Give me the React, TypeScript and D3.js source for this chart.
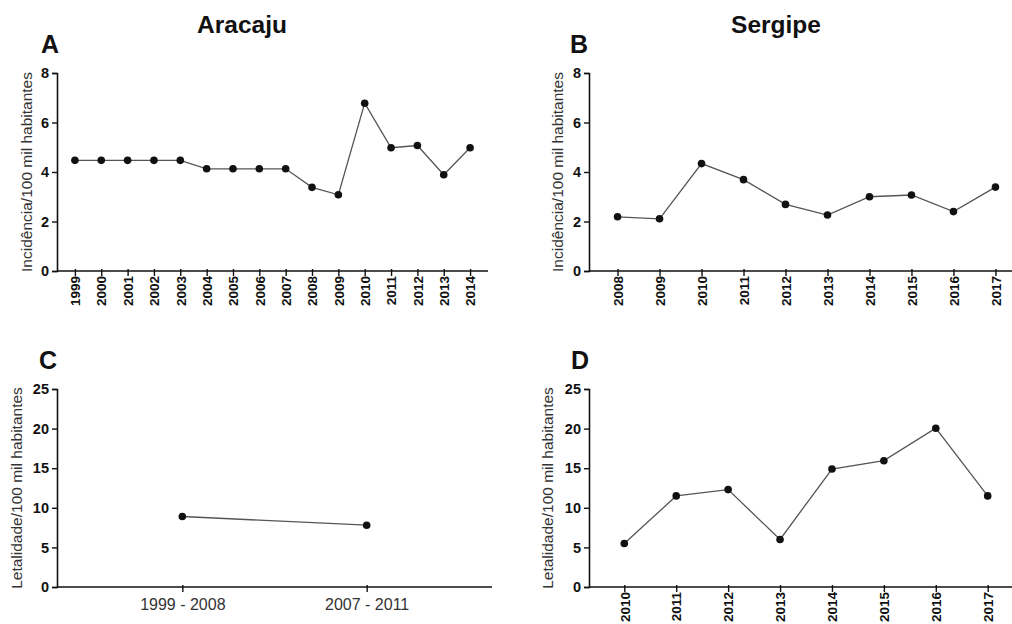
import React, { useEffect, useRef } from 'react';
import * as d3 from 'd3';

const YEARS_A = ['1999', '2000', '2001', '2002', '2003', '2004', '2005', '2006', '2007', '2008', '2009', '2010', '2011', '2012', '2013', '2014'];
const VALUES_A = [4.47, 4.47, 4.47, 4.47, 4.47, 4.13, 4.13, 4.13, 4.13, 3.38, 3.08, 6.78, 4.98, 5.07, 3.89, 4.98];

const YEARS_B = ['2008', '2009', '2010', '2011', '2012', '2013', '2014', '2015', '2016', '2017'];
const VALUES_B = [2.19, 2.11, 4.34, 3.69, 2.69, 2.26, 3.0, 3.07, 2.4, 3.39];

const PERIODS_C = ['1999 - 2008', '2007 - 2011'];
const VALUES_C = [8.9, 7.8];

const YEARS_D = ['2010', '2011', '2012', '2013', '2014', '2015', '2016', '2017'];
const VALUES_D = [5.5, 11.5, 12.3, 6.0, 14.9, 15.95, 20.05, 11.5];

const TICKS_INC = [0, 2, 4, 6, 8];
const TICKS_LET = [0, 5, 10, 15, 20, 25];

const FONT = '"Liberation Sans", Arial, sans-serif';

interface PanelCfg {
  letter: string;
  letterX: number;
  letterY: number;
  left: number;
  right: number;
  top: number;
  bottom: number;
  cats: string[];
  values: number[];
  yMax: number;
  yTicks: number[];
  yLabel: string;
  yLabelX: number;
  rotated: boolean;
}

function drawPanel(svg: d3.Selection<SVGSVGElement, unknown, null, undefined>, p: PanelCfg) {
  const x = d3.scalePoint<string>().domain(p.cats).range([p.left, p.right]).padding(0.68);
  const y = d3.scaleLinear().domain([0, p.yMax]).range([p.bottom, p.top]);

  const g = svg.append('g');

  g.append('text')
    .attr('x', p.letterX)
    .attr('y', p.letterY)
    .style('font-family', FONT)
    .style('font-weight', 'bold')
    .style('font-size', '25px')
    .attr('fill', '#111')
    .text(p.letter);

  // y axis
  const yAxis = g.append('g')
    .attr('transform', `translate(${p.left},0)`)
    .call(d3.axisLeft(y).tickValues(p.yTicks).tickSize(5).tickPadding(3).tickFormat(d3.format('d')));
  yAxis.select('.domain').attr('stroke', '#111').attr('stroke-width', 1.6);
  yAxis.selectAll('.tick line').attr('stroke', '#111').attr('stroke-width', 1.4);
  yAxis.selectAll('.tick text')
    .style('font-family', FONT)
    .style('font-weight', 'bold')
    .style('font-size', '14.5px')
    .attr('fill', '#111');

  // x axis
  const xAxis = g.append('g')
    .attr('transform', `translate(0,${p.bottom})`)
    .call(d3.axisBottom(x).tickSize(5).tickSizeOuter(0));
  xAxis.select('.domain')
    .attr('d', `M${p.left},0H${p.right}`)
    .attr('stroke', '#111')
    .attr('stroke-width', 1.6);
  xAxis.selectAll('.tick line').attr('stroke', '#111').attr('stroke-width', 1.4).attr('y1', -2);
  const xt = xAxis.selectAll<SVGTextElement, string>('.tick text')
    .style('font-family', FONT)
    .attr('fill', '#111');
  if (p.rotated) {
    xt.style('font-weight', 'bold')
      .style('font-size', '13.5px')
      .attr('transform', 'rotate(-90)')
      .attr('text-anchor', 'end')
      .attr('x', -5)
      .attr('y', 0)
      .attr('dy', '0.35em');
  } else {
    xt.style('font-size', '16px')
      .attr('fill', '#333')
      .attr('y', 12)
      .attr('dy', '0.71em');
  }

  // y label
  g.append('text')
    .attr('transform', `translate(${p.yLabelX},${(p.top + p.bottom) / 2}) rotate(-90)`)
    .attr('text-anchor', 'middle')
    .attr('dy', '0.35em')
    .style('font-family', FONT)
    .style('font-size', '15.5px')
    .attr('fill', '#333')
    .text(p.yLabel);

  const line = d3.line<number>()
    .x((_, i) => x(p.cats[i]) as number)
    .y((d) => y(d));

  g.append('path')
    .datum(p.values)
    .attr('d', line)
    .attr('fill', 'none')
    .attr('stroke', '#555')
    .attr('stroke-width', 1.3);

  g.selectAll('.dot')
    .data(p.values)
    .enter()
    .append('circle')
    .attr('cx', (_, i) => x(p.cats[i]) as number)
    .attr('cy', (d) => y(d))
    .attr('r', 3.8)
    .attr('fill', '#111');
}

export default function App() {
  const svgRef = useRef<SVGSVGElement>(null);

  useEffect(() => {
    if (!svgRef.current) return;
    const svg = d3.select(svgRef.current);
    svg.selectAll('*').remove();

    svg.append('rect').attr('width', 1012).attr('height', 624).attr('fill', '#fff');

    const titles = [
      { t: 'Aracaju', x: 242 },
      { t: 'Sergipe', x: 776 },
    ];
    svg.selectAll('.title')
      .data(titles)
      .enter()
      .append('text')
      .attr('x', (d) => d.x)
      .attr('y', 33)
      .attr('text-anchor', 'middle')
      .style('font-family', FONT)
      .style('font-weight', 'bold')
      .style('font-size', '24.5px')
      .attr('fill', '#111')
      .text((d) => d.t);

    const incLabel = 'Incidência/100 mil habitantes';
    const letLabel = 'Letalidade/100 mil habitantes';

    drawPanel(svg, {
      letter: 'A', letterX: 41, letterY: 53,
      left: 57, right: 488, top: 73, bottom: 271,
      cats: YEARS_A, values: VALUES_A, yMax: 8, yTicks: TICKS_INC,
      yLabel: incLabel, yLabelX: 27, rotated: true,
    });
    drawPanel(svg, {
      letter: 'B', letterX: 570, letterY: 53,
      left: 589, right: 1024, top: 73, bottom: 271,
      cats: YEARS_B, values: VALUES_B, yMax: 8, yTicks: TICKS_INC,
      yLabel: incLabel, yLabelX: 558, rotated: true,
    });
    drawPanel(svg, {
      letter: 'C', letterX: 39, letterY: 369,
      left: 57, right: 492, top: 389, bottom: 587,
      cats: PERIODS_C, values: VALUES_C, yMax: 25, yTicks: TICKS_LET,
      yLabel: letLabel, yLabelX: 17, rotated: false,
    });
    drawPanel(svg, {
      letter: 'D', letterX: 571, letterY: 369,
      left: 589, right: 1023, top: 389, bottom: 587,
      cats: YEARS_D, values: VALUES_D, yMax: 25, yTicks: TICKS_LET,
      yLabel: letLabel, yLabelX: 548, rotated: true,
    });
  }, []);

  return (
    <svg
      ref={svgRef}
      width={1012}
      height={624}
      viewBox="0 0 1012 624"
      style={{ position: 'absolute', left: 0, top: 0, overflow: 'hidden' }}
    />
  );
}
